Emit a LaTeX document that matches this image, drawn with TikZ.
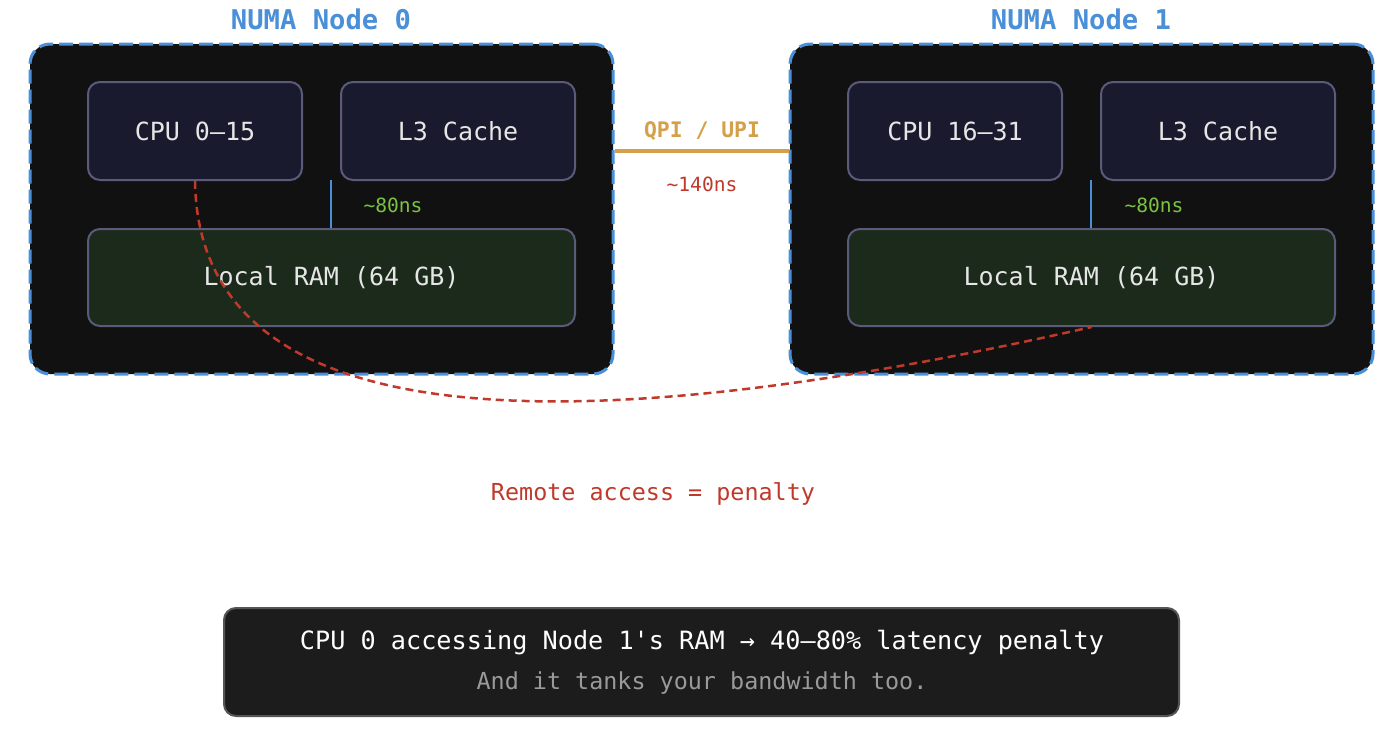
\documentclass[tikz,border=0pt]{standalone}
\usepackage{fontspec}
\setmainfont{DejaVu Sans Mono}[Ligatures=ResetAll]
\usetikzlibrary{calc}
\definecolor{numablue}{HTML}{4A90D9}
\definecolor{shell}{HTML}{111111}
\definecolor{cpufill}{HTML}{1A1A2E}
\definecolor{rimgray}{HTML}{5A5A7A}
\definecolor{ramfill}{HTML}{1B2A1B}
\definecolor{lime}{HTML}{7CC242}
\definecolor{qpiorange}{HTML}{D4A04A}
\definecolor{penred}{HTML}{C0392B}
\definecolor{txtlight}{HTML}{E6E6E6}
\definecolor{notefill}{HTML}{1C1C1C}
\definecolor{noterim}{HTML}{555555}
\definecolor{notegray}{HTML}{9A9A9A}
\tikzset{
  numa/.style={draw=numablue, fill=shell, dash pattern=on 7pt off 3pt,
               line width=1.5pt, rounded corners=10pt,
               minimum width=291.5pt, minimum height=165pt},
  unit/.style={draw=rimgray, fill=cpufill, line width=1pt, rounded corners=6pt,
               text=txtlight, font=\fontsize{12.5}{15}\selectfont,
               minimum height=49pt},
  ramunit/.style={unit, fill=ramfill, minimum width=243.5pt, minimum height=48.5pt},
  title/.style={text=numablue, font=\fontsize{13.6}{16}\selectfont\bfseries},
  lat/.style={font=\fontsize{9.8}{12}\selectfont},
  bus/.style={line width=1pt, draw=numablue},
  qpi/.style={line width=2pt, draw=qpiorange},
  remote/.style={line width=1.25pt, draw=penred, dash pattern=on 4pt off 2.5pt}
}

\begin{document}
\begin{tikzpicture}[x=0.5pt,y=-0.5pt]
  \path[fill=white, use as bounding box] (0,0) rectangle (1400,739);
  % the two sockets
  \node[numa] (numa0) at (321.5,209) {};
  \node[numa] (numa1) at (1081.5,209) {};
  \node[title] (t0) at (321,19) {NUMA Node 0};
  \node[title] (t1) at (1081,19) {NUMA Node 1};

  \node[unit, minimum width=107pt] (cpu0) at (195,131) {CPU 0–15};
  \node[unit, minimum width=117pt] (l30) at (458,131) {L3 Cache};
  \node[ramunit] (ram0) at (331.5,277.5) {Local RAM (64 GB)};
  \node[unit, minimum width=107pt] (cpu1) at (955,131) {CPU 16–31};
  \node[unit, minimum width=117pt] (l31) at (1218,131) {L3 Cache};
  \node[ramunit] (ram1) at (1091.5,277.5) {Local RAM (64 GB)};

  \coordinate (gap0) at (331,180);
  \coordinate (gap1) at (1091,180);
  \draw[bus] (gap0) -- (gap0 |- ram0.north);
  \draw[bus] (gap1) -- (gap1 |- ram1.north);
  \node[lat, text=lime] (lat0) at (393,205) {\textasciitilde80ns};
  \node[lat, text=lime] (lat1) at (1154,205) {\textasciitilde80ns};

  % interconnect
  \coordinate (link) at (702,151);
  \draw[qpi] (numa0.east |- link) -- (numa1.west |- link);
  \node[text=qpiorange, font=\fontsize{10.7}{13}\selectfont\bfseries] (qpilbl) at (702,131) {QPI / UPI};
  \node[lat, text=penred] (lat2) at (702,184) {\textasciitilde140ns};

  % remote path
  \draw[remote] (cpu0.south) .. controls (198.3,413.3) and (497,462) .. (ram1.south);
  \node[text=penred, font=\fontsize{11.7}{14}\selectfont] (pen) at (653,494) {Remote access = penalty};

  \node[draw=noterim, fill=notefill, line width=1pt, rounded corners=6pt,
        minimum width=477.5pt, minimum height=54pt] (note) at (701.5,662) {};
  \node[text=white, font=\fontsize{12.6}{15}\selectfont] (n1) at (702,643)
    {CPU 0 accessing Node 1\textquotesingle s RAM → 40–80\% latency penalty};
  \node[text=notegray, font=\fontsize{11.7}{14}\selectfont] (n2) at (702,683)
    {And it tanks your bandwidth too.};
\end{tikzpicture}
\end{document}
